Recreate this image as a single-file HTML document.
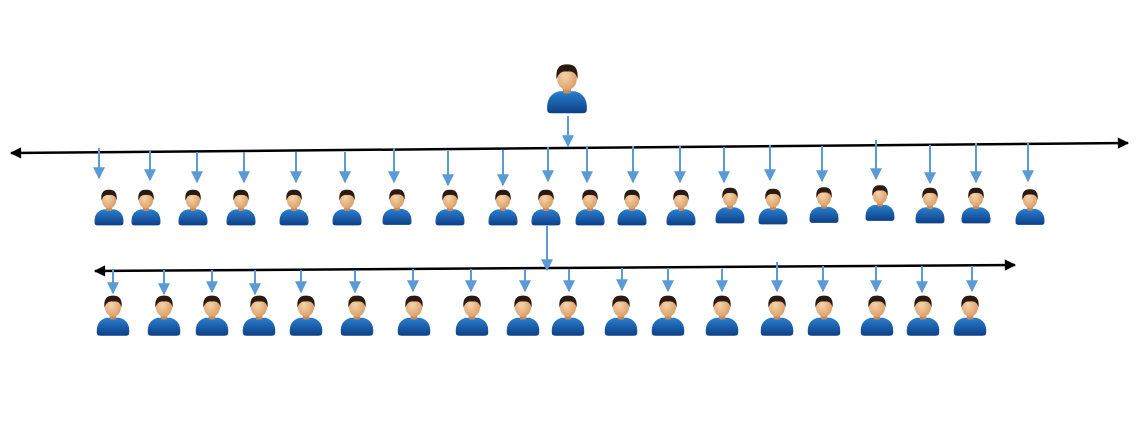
<!DOCTYPE html>
<html><head><meta charset="utf-8"><style>html,body{margin:0;padding:0;background:#fff}svg{display:block}</style></head>
<body>
<svg width="1137" height="432" viewBox="0 0 1137 432" xmlns="http://www.w3.org/2000/svg">
<defs>
<radialGradient id="sk" cx="0.4" cy="0.4" r="0.7"><stop offset="0" stop-color="#f6d3a8"/><stop offset="1" stop-color="#d79a62"/></radialGradient>
<linearGradient id="bd" x1="0" y1="0" x2="0" y2="1"><stop offset="0" stop-color="#2a7fd0"/><stop offset="1" stop-color="#0d3f86"/></linearGradient>
<symbol id="p" viewBox="0 0 40 48">
<path d="M2 44 Q1 30 13 27 L27 27 Q39 30 38 44 Q38 47 34 47 L6 47 Q2 47 2 44 Z" fill="url(#bd)"/>
<path d="M16 24 L24 24 L23 29 L17 29 Z" fill="#c98a55"/>
<ellipse cx="20" cy="15" rx="9" ry="11" fill="url(#sk)"/>
<path d="M10.5 16 Q9 2 20 2.5 Q31 2 29.5 16 Q28 8 20 9 Q13 8 10.5 16 Z" fill="#2b1a12"/>
</symbol>
<marker id="ba" viewBox="0 0 10 10" refX="9" refY="5" markerWidth="7" markerHeight="6" orient="auto"><path d="M0 0 L10 5 L0 10 Z" fill="#5b9bd5"/></marker>
<marker id="ka" viewBox="0 0 10 10" refX="9" refY="5" markerWidth="5.5" markerHeight="4.5" orient="auto-start-reverse"><path d="M0 0 L10 5 L0 10 Z" fill="#000"/></marker>
</defs>
<g stroke="#000" stroke-width="2.5" fill="none">
<line x1="11" y1="153" x2="1128" y2="143" marker-start="url(#ka)" marker-end="url(#ka)"/>
<line x1="95" y1="271" x2="1015" y2="265" marker-start="url(#ka)" marker-end="url(#ka)"/>
</g>
<g stroke="#5b9bd5" stroke-width="2" marker-end="url(#ba)">
<line x1="568" y1="116" x2="568" y2="146"/>
<line x1="547" y1="226" x2="547" y2="270"/>
<line x1="99" y1="148" x2="99" y2="178"/><line x1="150" y1="150" x2="150" y2="180"/><line x1="197" y1="152" x2="197" y2="182"/><line x1="244" y1="152" x2="244" y2="182"/><line x1="296" y1="152" x2="296" y2="182"/><line x1="345" y1="152" x2="345" y2="182"/><line x1="394" y1="148" x2="394" y2="182"/><line x1="448" y1="151" x2="448" y2="185"/><line x1="503" y1="150" x2="503" y2="185"/><line x1="548" y1="147" x2="548" y2="181"/><line x1="587" y1="147" x2="587" y2="182"/><line x1="633" y1="146" x2="633" y2="182"/><line x1="680" y1="146" x2="680" y2="182"/><line x1="724" y1="147" x2="724" y2="182"/><line x1="770" y1="145" x2="770" y2="180"/><line x1="822" y1="146" x2="822" y2="181"/><line x1="876" y1="140" x2="876" y2="179"/><line x1="930" y1="145" x2="930" y2="183"/><line x1="976" y1="143" x2="976" y2="182"/><line x1="1028" y1="143" x2="1028" y2="181"/>
<line x1="113" y1="269" x2="113" y2="293"/><line x1="164" y1="270" x2="164" y2="294"/><line x1="212" y1="270" x2="212" y2="292"/><line x1="255" y1="270" x2="255" y2="294"/><line x1="301" y1="270" x2="301" y2="292"/><line x1="355" y1="270" x2="355" y2="292"/><line x1="413" y1="269" x2="413" y2="291"/><line x1="471" y1="269" x2="471" y2="291"/><line x1="525" y1="269" x2="525" y2="291"/><line x1="569" y1="269" x2="569" y2="291"/><line x1="622" y1="268" x2="622" y2="290"/><line x1="668" y1="268" x2="668" y2="291"/><line x1="722" y1="269" x2="722" y2="291"/><line x1="777" y1="262" x2="777" y2="291"/><line x1="823" y1="266" x2="823" y2="291"/><line x1="876" y1="266" x2="876" y2="291"/><line x1="922" y1="266" x2="922" y2="292"/><line x1="972" y1="266" x2="972" y2="291"/>
</g>
<use href="#p" x="545" y="60" width="44" height="56"/>
<g>
<use href="#p" x="93" y="187" width="32" height="40"/><use href="#p" x="130" y="187" width="32" height="40"/><use href="#p" x="177" y="187" width="32" height="40"/><use href="#p" x="225" y="187" width="32" height="40"/><use href="#p" x="278" y="187" width="32" height="40"/><use href="#p" x="331" y="187" width="32" height="40"/><use href="#p" x="381" y="186" width="32" height="41"/><use href="#p" x="434" y="187" width="32" height="40"/><use href="#p" x="487" y="187" width="32" height="40"/><use href="#p" x="530" y="187" width="32" height="40"/><use href="#p" x="574" y="187" width="32" height="40"/><use href="#p" x="616" y="187" width="32" height="40"/><use href="#p" x="665" y="187" width="32" height="40"/><use href="#p" x="714" y="184" width="32" height="42"/><use href="#p" x="757" y="186" width="32" height="40"/><use href="#p" x="808" y="183" width="32" height="43"/><use href="#p" x="864" y="181" width="32" height="43"/><use href="#p" x="914" y="184" width="32" height="42"/><use href="#p" x="960" y="184" width="32" height="42"/><use href="#p" x="1014" y="187" width="32" height="39"/>
</g>
<g>
<use href="#p" x="95" y="292" width="36" height="46"/><use href="#p" x="146" y="292" width="36" height="46"/><use href="#p" x="194" y="292" width="36" height="46"/><use href="#p" x="241" y="292" width="36" height="46"/><use href="#p" x="288" y="292" width="36" height="46"/><use href="#p" x="339" y="292" width="36" height="46"/><use href="#p" x="396" y="292" width="36" height="46"/><use href="#p" x="454" y="292" width="36" height="46"/><use href="#p" x="505" y="292" width="36" height="46"/><use href="#p" x="550" y="292" width="36" height="46"/><use href="#p" x="603" y="292" width="36" height="46"/><use href="#p" x="650" y="292" width="36" height="46"/><use href="#p" x="704" y="292" width="36" height="46"/><use href="#p" x="759" y="292" width="36" height="46"/><use href="#p" x="806" y="292" width="36" height="46"/><use href="#p" x="859" y="292" width="36" height="46"/><use href="#p" x="905" y="292" width="36" height="46"/><use href="#p" x="952" y="292" width="36" height="46"/>
</g>
</svg>
</body></html>
